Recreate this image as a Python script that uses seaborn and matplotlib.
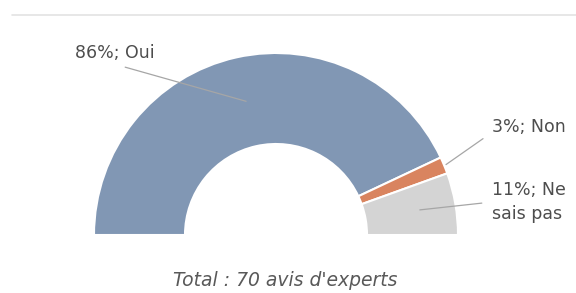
import numpy as np
import matplotlib
matplotlib.use("Agg")
import matplotlib.pyplot as plt
import seaborn as sns

# Data
answers = ["Oui", "Non", "Ne sais pas"]
shares = [86, 3, 11]
label_texts = ["86%; Oui", "3%; Non", "11%; Ne\nsais pas"]
total_text = "Total : 70 avis d'experts"

sns.set_theme(style="white")
plt.rcParams["font.family"] = ["DejaVu Sans"]
colors = ["#8197b4", "#d9845f", "#d4d4d4"]

W, H = 576, 293
fig = plt.figure(figsize=(W / 100, H / 100), dpi=100)
ax = fig.add_axes([0, 0, 1, 1])

# half donut: values are halved so the pie only covers 180 degrees
cx, cy, r = 276, H - 235, 182
fracs = np.array(shares) / 200.0
wedges, _ = ax.pie(fracs, normalize=False, startangle=180, counterclock=False,
                   colors=colors, center=(cx, cy), radius=r,
                   wedgeprops=dict(width=91, edgecolor="white", linewidth=1.5))
ax.set_xlim(0, W)
ax.set_ylim(0, H)
ax.set_aspect("equal")
ax.axis("off")

# top separator line
ax.plot([12, W], [H - 15, H - 15], color="#e3e3e3", lw=1.2)

# labels with leader lines
text_pos = [(75, H - 53), (492, H - 127), (492, H - 202)]
line_rad = [r - 45, r + 2, r - 36]
conn = ["arc3", "angle,angleA=0,angleB=35,rad=0", "arc3"]
for w, txt, (tx, ty), rr, cs in zip(wedges, label_texts, text_pos, line_rad, conn):
    ang = np.deg2rad((w.theta1 + w.theta2) / 2)
    px, py = cx + rr * np.cos(ang), cy + rr * np.sin(ang)
    ax.annotate(txt, xy=(px, py), xytext=(tx, ty), ha="left", va="center",
                fontsize=12.5, color="#4d4d4d", linespacing=1.45,
                arrowprops=dict(arrowstyle="-", color="#a6a6a6", lw=0.9,
                                connectionstyle=cs, relpos=(0, 0.5),
                                shrinkA=5, shrinkB=0))

ax.text(285, H - 280, total_text, ha="center", va="center",
        fontsize=13.5, style="italic", color="#595959")

fig.savefig("out.png", dpi=100)
